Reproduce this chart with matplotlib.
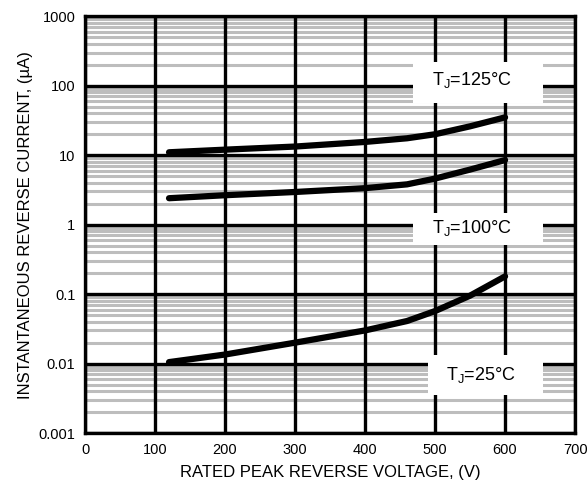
import matplotlib
matplotlib.use("Agg")
import matplotlib.pyplot as plt
from matplotlib.patches import Rectangle
from matplotlib.ticker import LogLocator, NullFormatter

plt.rcParams["font.family"] = ["Liberation Sans", "DejaVu Sans"]

# reverse current vs rated voltage, one curve per junction temperature
volts = [120, 200, 300, 400, 460, 500, 550, 600]
i_125 = [11.0, 12.0, 13.3, 15.5, 17.5, 20.0, 26.0, 35.0]
i_100 = [2.4, 2.65, 2.95, 3.35, 3.8, 4.6, 6.2, 8.5]
i_25 = [0.0105, 0.0135, 0.02, 0.03, 0.041, 0.057, 0.095, 0.18]

labels = ["T$_\\mathregular{J}$=125°C", "T$_\\mathregular{J}$=100°C", "T$_\\mathregular{J}$=25°C"]
x_ticks = [0, 100, 200, 300, 400, 500, 600, 700]
y_ticks = [0.001, 0.01, 0.1, 1, 10, 100, 1000]
y_ticklabels = ["0.001", "0.01", "0.1", "1", "10", "100", "1000"]

fig = plt.figure(figsize=(5.88, 4.91), dpi=100)
ax = fig.add_axes([0.1446, 0.118, 0.8334, 0.849])

ax.set_yscale("log")
ax.set_xlim(0, 700)
ax.set_ylim(0.001, 1000)

ax.set_xticks(x_ticks)
ax.set_yticks(y_ticks)
ax.set_yticklabels(y_ticklabels)
ax.yaxis.set_minor_locator(LogLocator(base=10, subs=range(2, 10), numticks=20))
ax.yaxis.set_minor_formatter(NullFormatter())
ax.tick_params(which="both", length=0, labelsize=10.5, colors="black", pad=7)

# light minor grid first, then the heavy major lines on top of it
ax.grid(which="minor", axis="y", color="#bdbdbd", lw=2.2)
ax.set_axisbelow(True)
for xv in x_ticks:
    ax.axvline(xv, color="black", lw=2.4, zorder=1)
for yv in y_ticks:
    ax.axhline(yv, color="black", lw=2.4, zorder=1)
for sp in ax.spines.values():
    sp.set_linewidth(2.4)

# white label boxes cut through the grid
boxes = [(469, 56, 654, 218), (469, 0.51, 654, 1.46), (490, 0.0035, 654, 0.0132)]
text_pos = [(553, 120), (553, 0.89), (566, 0.0068)]
for (x0, y0, x1, y1), (tx, ty), lab in zip(boxes, text_pos, labels):
    ax.add_patch(Rectangle((x0, y0), x1 - x0, y1 - y0, facecolor="white",
                           edgecolor="none", zorder=1.5))
    ax.text(tx, ty, lab, ha="center", va="center", fontsize=13, zorder=3)

for ys in (i_125, i_100, i_25):
    ax.plot(volts, ys, color="black", lw=4.5, solid_capstyle="round", zorder=2.5)

ax.set_xlabel("RATED PEAK REVERSE VOLTAGE, (V)", fontsize=12, labelpad=6)
ax.set_ylabel("INSTANTANEOUS REVERSE CURRENT, (µA)", fontsize=12, labelpad=4)

fig.savefig("out.png", dpi=100)
